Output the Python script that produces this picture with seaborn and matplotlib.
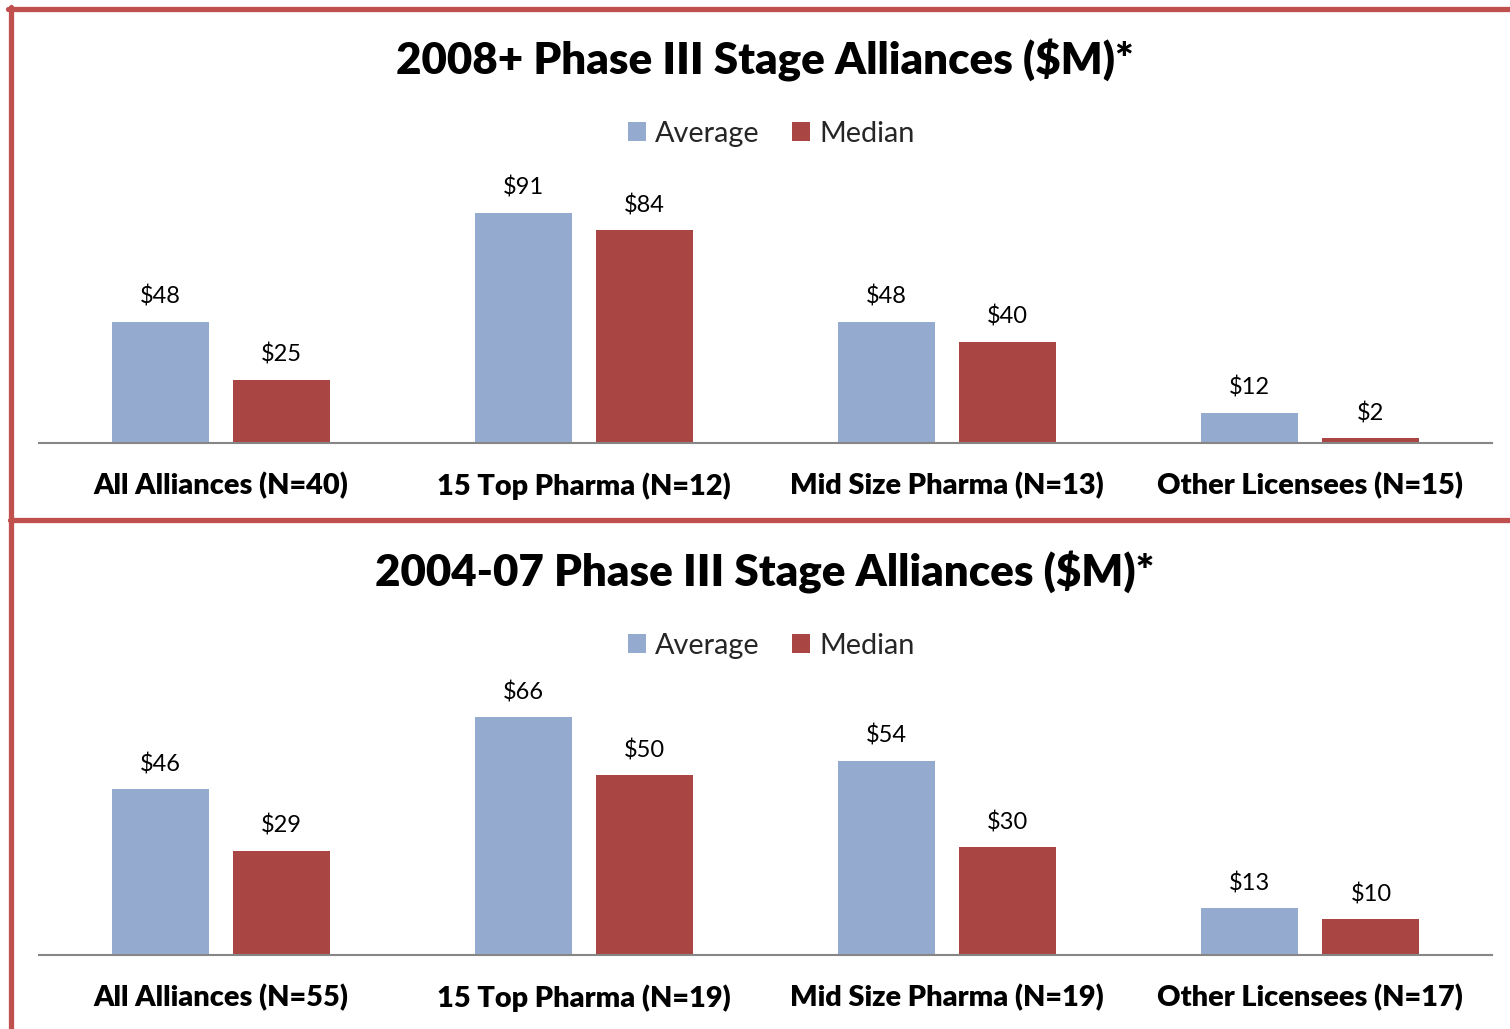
import matplotlib
matplotlib.use("Agg")
import matplotlib.pyplot as plt
from matplotlib.lines import Line2D
from matplotlib.patches import Patch
import seaborn as sns
import pandas as pd

categories_top = ["All Alliances (N=40)", "15 Top Pharma (N=12)", "Mid Size Pharma (N=13)", "Other Licensees (N=15)"]
average_top = [48, 91, 48, 12]
median_top = [25, 84, 40, 2]

categories_bottom = ["All Alliances (N=55)", "15 Top Pharma (N=19)", "Mid Size Pharma (N=19)", "Other Licensees (N=17)"]
average_bottom = [46, 66, 54, 13]
median_bottom = [29, 50, 30, 10]

title_top = "2008+ Phase III Stage Alliances ($M)*"
title_bottom = "2004-07 Phase III Stage Alliances ($M)*"
series_names = ["Average", "Median"]

sns.set_theme(style="white")
plt.rcParams["font.family"] = ["Lato", "DejaVu Sans"]

BLUE = "#95AACF"
RED = "#A94644"
BORDER = "#C0504D"
W, H = 1510, 1029
fig = plt.figure(figsize=(W / 100, H / 100), dpi=100)


def fx(px):
    return px / W


def fy(py):
    return 1 - py / H


def make_df(cats, avg, med):
    rows = []
    for c, a, m in zip(cats, avg, med):
        rows.append({"cat": c, "series": series_names[0], "value": a})
        rows.append({"cat": c, "series": series_names[1], "value": m})
    return pd.DataFrame(rows)


def panel(baseline_px, ymax, px_per_unit, cats, avg, med, title, title_y, legend_y):
    height_px = ymax * px_per_unit
    ax = fig.add_axes([fx(39), fy(baseline_px), fx(1492) - fx(39), height_px / H])
    df = make_df(cats, avg, med)
    sns.barplot(data=df, x="cat", y="value", hue="series", order=cats,
                hue_order=series_names, palette=[BLUE, RED], width=0.667,
                gap=0.2, saturation=1, ax=ax, legend=False, edgecolor="none")
    ax.set_ylim(0, ymax)
    ax.set_xlim(-0.5, len(cats) - 0.5)
    for cont in ax.containers:
        vals = [p.get_height() for p in cont]
        ax.bar_label(cont, labels=[f"${v:.0f}" for v in vals], padding=10,
                     fontsize=17, color="black")
    for s in ["top", "right", "left"]:
        ax.spines[s].set_visible(False)
    ax.spines["bottom"].set_color("#868686")
    ax.spines["bottom"].set_linewidth(1.5)
    ax.set_yticks([])
    ax.set_xlabel("")
    ax.set_ylabel("")
    ax.tick_params(axis="x", length=0, pad=21)
    for lab in ax.get_xticklabels():
        lab.set_fontsize(20.8)
        lab.set_fontweight("heavy")
        lab.set_color("black")
    fig.text(fx(765), fy(title_y), title, ha="center", va="center",
             fontsize=31.6, fontweight="heavy", color="black")
    handles = [Patch(facecolor=BLUE, edgecolor="none"), Patch(facecolor=RED, edgecolor="none")]
    fig.legend(handles, series_names, loc="center", bbox_to_anchor=(fx(771), fy(legend_y)),
               ncol=2, frameon=False, fontsize=20.8, handlelength=0.65, handleheight=0.65,
               handletextpad=0.3, columnspacing=1.1)
    return ax


panel(443, 100, 2.53, categories_top, average_top, median_top, title_top, 60, 134)
panel(955, 70, 3.6, categories_bottom, average_bottom, median_bottom, title_bottom, 572, 646)

lw = 3.8
fig.add_artist(Line2D([fx(8), 1], [fy(8.5), fy(8.5)], color=BORDER, lw=lw, transform=fig.transFigure))
fig.add_artist(Line2D([fx(10.5), fx(10.5)], [fy(6.5), 0], color=BORDER, lw=lw, transform=fig.transFigure))
fig.add_artist(Line2D([fx(10), 1], [fy(519.5), fy(519.5)], color=BORDER, lw=lw, transform=fig.transFigure))

fig.savefig("out.png", dpi=100, facecolor="white")
